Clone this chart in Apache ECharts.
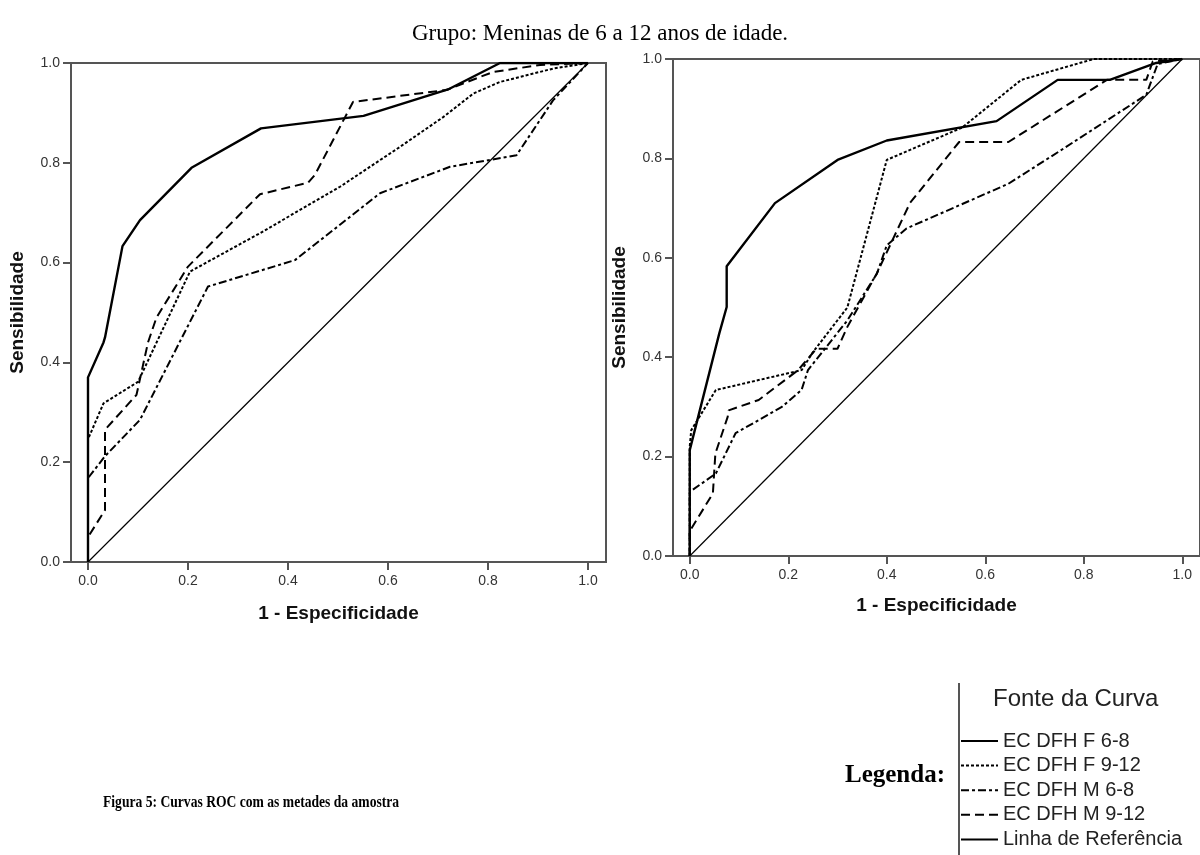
<!DOCTYPE html>
<html>
<head>
<meta charset="utf-8">
<script src="https://cdn.jsdelivr.net/npm/echarts@6/dist/echarts.min.js"></script>
<style>
html,body{margin:0;padding:0;background:#fff;}
#chart{width:1200px;height:855px;}
</style>
</head>
<body>
<div id="chart"></div>
<script>
// ---- Data ----
const titleText = 'Grupo: Meninas de 6 a 12 anos de idade.';
const xTicks = [0, 0.2, 0.4, 0.6, 0.8, 1.0];
const yTicks = [0, 0.2, 0.4, 0.6, 0.8, 1.0];
const seriesNames = ['EC DFH F 6-8', 'EC DFH F 9-12', 'EC DFH M 6-8', 'EC DFH M 9-12', 'Linha de Referência'];
const xAxisTitle = '1 - Especificidade';
const yAxisTitle = 'Sensibilidade';

// Left panel curves [1 - specificity, sensitivity]
const leftF68 = [[0,0],[0,0.37],[0.031,0.44],[0.034,0.45],[0.069,0.633],[0.104,0.685],[0.207,0.79],[0.346,0.869],[0.551,0.894],[0.72,0.947],[0.824,1],[1,1]];
const leftF912 = [[0,0],[0,0.246],[0.031,0.318],[0.1,0.361],[0.204,0.582],[0.344,0.659],[0.504,0.752],[0.624,0.832],[0.711,0.892],[0.771,0.939],[0.824,0.962],[0.931,0.989],[1,1]];
const leftM68 = [[0,0],[0,0.168],[0.034,0.212],[0.104,0.285],[0.24,0.552],[0.414,0.605],[0.584,0.739],[0.724,0.792],[0.857,0.815],[0.93,0.925],[1,1]];
const leftM912 = [[0,0],[0,0.05],[0.034,0.104],[0.034,0.265],[0.097,0.335],[0.12,0.44],[0.137,0.49],[0.2,0.592],[0.344,0.737],[0.44,0.76],[0.454,0.776],[0.53,0.922],[0.717,0.946],[0.81,0.982],[0.904,0.996],[1,1]];

// Right panel curves
const rightF68 = [[0,0],[0,0.213],[0.06,0.448],[0.075,0.501],[0.075,0.583],[0.173,0.71],[0.3,0.797],[0.4,0.836],[0.623,0.875],[0.747,0.958],[0.853,0.958],[0.947,0.992],[1,1]];
const rightF912 = [[0,0],[0,0.22],[0.003,0.253],[0.053,0.334],[0.227,0.374],[0.25,0.41],[0.32,0.5],[0.4,0.797],[0.553,0.862],[0.673,0.958],[0.82,1],[1,1]];
const rightM68 = [[0,0],[0,0.129],[0.053,0.166],[0.093,0.247],[0.187,0.3],[0.227,0.334],[0.24,0.374],[0.32,0.474],[0.38,0.568],[0.4,0.625],[0.44,0.659],[0.647,0.749],[0.753,0.816],[0.927,0.928],[0.95,0.99],[1,1]];
const rightM912 = [[0,0],[0,0.05],[0.047,0.126],[0.052,0.206],[0.077,0.28],[0.079,0.293],[0.14,0.314],[0.22,0.374],[0.257,0.417],[0.3,0.417],[0.32,0.461],[0.38,0.569],[0.447,0.71],[0.547,0.833],[0.647,0.833],[0.847,0.958],[0.927,0.958],[0.94,0.995],[1,1]];

const refLine = [[0,0],[1,1]];

const leftData = [leftF68, leftF912, leftM68, leftM912, refLine];
const rightData = [rightF68, rightF912, rightM68, rightM912, refLine];

// ---- Styles ----
const lineStyles = [
  {color:'#000', width:2.4, type:'solid'},
  {color:'#000', width:2, type:[3,2]},
  {color:'#000', width:2, type:[8,3,3,3]},
  {color:'#000', width:2, type:[9,5]},
  {color:'#000', width:1.2, type:'solid'}
];

const axisColor = '#555';
const sans = 'Liberation Sans, Arial, sans-serif';
const serif = 'Liberation Serif, Times New Roman, serif';

function xAxisCfg(gridIndex, nameGap){
  return {
    gridIndex, type:'value', min:-0.034, max:1.036,
    name: xAxisTitle, nameLocation:'middle', nameGap,
    nameTextStyle:{fontFamily:sans, fontWeight:'bold', fontSize:19, color:'#111'},
    axisLine:{show:true, onZero:false, lineStyle:{color:axisColor, width:2}},
    axisTick:{show:true, length:8, customValues:xTicks, lineStyle:{color:axisColor, width:2}},
    axisLabel:{show:true, margin:12, customValues:xTicks, fontFamily:sans, fontSize:14, color:'#333',
      formatter:v=>Number(v).toFixed(1)},
    splitLine:{show:false}
  };
}
function yAxisCfg(gridIndex){
  return {
    gridIndex, type:'value', min:0, max:1, interval:0.2,
    name: yAxisTitle, nameLocation:'middle', nameGap:44,
    nameTextStyle:{fontFamily:sans, fontWeight:'bold', fontSize:19, color:'#111'},
    axisLine:{show:true, onZero:false, lineStyle:{color:axisColor, width:2}},
    axisTick:{show:true, length:8, lineStyle:{color:axisColor, width:2}},
    axisLabel:{show:true, margin:11, fontFamily:sans, fontSize:14, color:'#333',
      formatter:v=>Number(v).toFixed(1)},
    splitLine:{show:false}
  };
}

const series = [];
[leftData, rightData].forEach((set, gi)=>{
  set.forEach((d, i)=>{
    series.push({
      type:'line', name:seriesNames[i], xAxisIndex:gi, yAxisIndex:gi,
      data:d, symbol:'none', showSymbol:false, lineStyle:lineStyles[i],
      itemStyle:{color:'#000'}, silent:true, z: 5 - (i===4?1:0)
    });
  });
});

const chart = echarts.init(document.getElementById('chart'), null, {renderer:'canvas'});
chart.setOption({
  animation:false,
  backgroundColor:'#fff',
  title:{text:titleText, left:'center', top:17,
    textStyle:{fontFamily:serif, fontWeight:'normal', fontSize:23, color:'#000'}},
  grid:[
    {left:71, top:63, width:535, height:499, show:true, borderColor:axisColor, borderWidth:2, containLabel:false},
    {left:673, top:59, width:535, height:497, show:true, borderColor:axisColor, borderWidth:2, containLabel:false}
  ],
  xAxis:[xAxisCfg(0, 42), xAxisCfg(1, 40)],
  yAxis:[yAxisCfg(0), yAxisCfg(1)],
  legend:{
    data:seriesNames, orient:'vertical', left:960, top:731,
    itemWidth:37, itemHeight:20, itemGap:4.6, padding:0,
    itemStyle:{color:'rgba(0,0,0,0)', borderColor:'rgba(0,0,0,0)', borderWidth:0},
    textStyle:{fontFamily:sans, fontSize:20, color:'#222', lineHeight:20},
    selectedMode:false
  },
  graphic:[
    {type:'line', shape:{x1:959, y1:683, x2:959, y2:855}, style:{stroke:'#555', lineWidth:2}},
    {type:'text', left:993, top:687, style:{text:'Fonte da Curva', font:'24px '+sans, fill:'#222'}},
    {type:'text', right:1200-945, top:763, style:{text:'Legenda:', font:'bold 25px '+serif, fill:'#000', textAlign:'right'}},
    {type:'text', x:103, y:803, scaleX:0.8, style:{text:'Figura 5: Curvas ROC com as metades da amostra', font:'bold 17px '+serif, fill:'#000', textVerticalAlign:'middle'}}
  ],
  series
});
</script>
</body>
</html>
